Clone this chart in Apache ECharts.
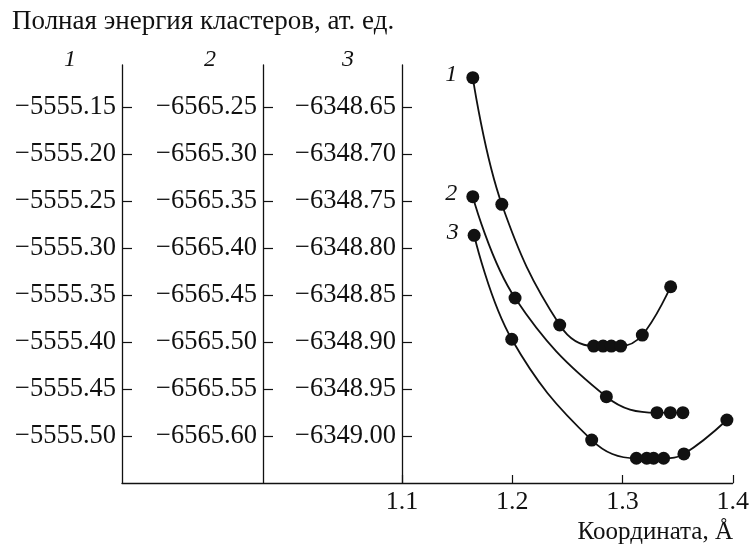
<!DOCTYPE html>
<html><head><meta charset="utf-8">
<script src="https://cdn.jsdelivr.net/npm/echarts@6/dist/echarts.min.js"></script>
<style>html,body{margin:0;padding:0;background:#fff}#c{width:752px;height:550px}</style>
</head><body><div id="c"></div>
<script>
// ---- data ----
const titleText = 'Полная энергия кластеров, ат. ед.';
const xAxisTitle = 'Координата, Å';
const axisHeaders = ['1', '2', '3'];
const seriesNames = ['1', '2', '3'];
const xTickValues = [1.1, 1.2, 1.3, 1.4];
const yTicks1 = [-5555.50, -5555.45, -5555.40, -5555.35, -5555.30, -5555.25, -5555.20, -5555.15];
const yTicks2 = [-6565.60, -6565.55, -6565.50, -6565.45, -6565.40, -6565.35, -6565.30, -6565.25];
const yTicks3 = [-6349.00, -6348.95, -6348.90, -6348.85, -6348.80, -6348.75, -6348.70, -6348.65];

const x1 = [1.1643, 1.1906, 1.2431, 1.2739, 1.2824, 1.2899, 1.2984, 1.3180, 1.3437];
const y1 = [-5555.1188, -5555.2535, -5555.3819, -5555.4043, -5555.4043, -5555.4043, -5555.4043, -5555.3926, -5555.3412];
const x2 = [1.1643, 1.2026, 1.2854, 1.3313, 1.3434, 1.3548];
const y2 = [-6565.3454, -6565.4532, -6565.5582, -6565.5752, -6565.5752, -6565.5752];
const x3 = [1.1655, 1.1996, 1.2721, 1.3126, 1.3220, 1.3282, 1.3373, 1.3557, 1.3947];
const y3 = [-6348.7865, -6348.8971, -6349.0043, -6349.0237, -6349.0237, -6349.0237, -6349.0237, -6349.0191, -6348.9830];

// ---- chart ----
const FONT = '"Liberation Serif", "Times New Roman", serif';
const INK = '#111';
const gridTop = 65, gridBottom = 67, gridLeft = 122, gridRight = 19;
const gridH = 550 - gridTop - gridBottom;
const pxPerStep = 47;

function fmtY(v) { return '\u2212' + Math.abs(v).toFixed(2); }

function yAxisCfg(ticks, offset) {
  const step = ticks[1] - ticks[0];
  const min = ticks[0] - step;
  const max = min + step * gridH / pxPerStep;
  return {
    type: 'value', position: 'left', offset: offset, min: min, max: max,
    axisLine: { show: true, onZero: false, lineStyle: { color: INK, width: 1.3 } },
    axisTick: { show: true, inside: true, length: 10, customValues: ticks, lineStyle: { color: INK, width: 1.2 } },
    axisLabel: { customValues: ticks, formatter: fmtY, fontFamily: FONT, fontSize: 26.5, color: INK, margin: 6 },
    splitLine: { show: false }
  };
}

function mkData(xs, ys, name) {
  return xs.map((x, i) => {
    if (i === 0) {
      return { value: [x, ys[i]], label: { show: true, formatter: name, position: 'left', distance: 9, offset: [0, -3],
        fontFamily: FONT, fontStyle: 'italic', fontSize: 24, color: INK } };
    }
    return [x, ys[i]];
  });
}

function mkSeries(xs, ys, idx) {
  return {
    type: 'line', name: seriesNames[idx], yAxisIndex: idx, xAxisIndex: 0,
    data: mkData(xs, ys, seriesNames[idx]),
    smooth: 0.4,
    symbol: 'circle', symbolSize: 13,
    lineStyle: { color: INK, width: 1.8 },
    itemStyle: { color: INK },
    label: { show: false },
    z: 3
  };
}

const chart = echarts.init(document.getElementById('c'), null, { renderer: 'canvas' });
chart.setOption({
  animation: false,
  backgroundColor: '#fff',
  grid: { left: gridLeft, right: gridRight, top: gridTop, bottom: gridBottom, containLabel: false },
  xAxis: {
    type: 'value', min: 0.8462, max: 1.4,
    axisLine: { show: true, onZero: false, lineStyle: { color: INK, width: 1.3 } },
    axisTick: { show: true, inside: true, length: 8, customValues: xTickValues, lineStyle: { color: INK, width: 1.2 } },
    axisLabel: { customValues: xTickValues, formatter: v => v.toFixed(1), fontFamily: FONT, fontSize: 26, color: INK, margin: 6 },
    splitLine: { show: false }
  },
  yAxis: [yAxisCfg(yTicks1, 0), yAxisCfg(yTicks2, -141), yAxisCfg(yTicks3, -280)],
  series: [mkSeries(x1, y1, 0), mkSeries(x2, y2, 1), mkSeries(x3, y3, 2)],
  graphic: [
    { type: 'text', x: 12, y: 22, style: { text: titleText, fontFamily: FONT, fontSize: 27, fill: INK, align: 'left', verticalAlign: 'middle' } },
    { type: 'text', x: 70, y: 60, style: { text: axisHeaders[0], fontFamily: FONT, fontStyle: 'italic', fontSize: 24, fill: INK, align: 'center', verticalAlign: 'middle' } },
    { type: 'text', x: 210, y: 60, style: { text: axisHeaders[1], fontFamily: FONT, fontStyle: 'italic', fontSize: 24, fill: INK, align: 'center', verticalAlign: 'middle' } },
    { type: 'text', x: 348, y: 60, style: { text: axisHeaders[2], fontFamily: FONT, fontStyle: 'italic', fontSize: 24, fill: INK, align: 'center', verticalAlign: 'middle' } },
    { type: 'text', x: 733, y: 532, style: { text: xAxisTitle, fontFamily: FONT, fontSize: 25, fill: INK, align: 'right', verticalAlign: 'middle' } }
  ]
});
</script>
</body></html>
